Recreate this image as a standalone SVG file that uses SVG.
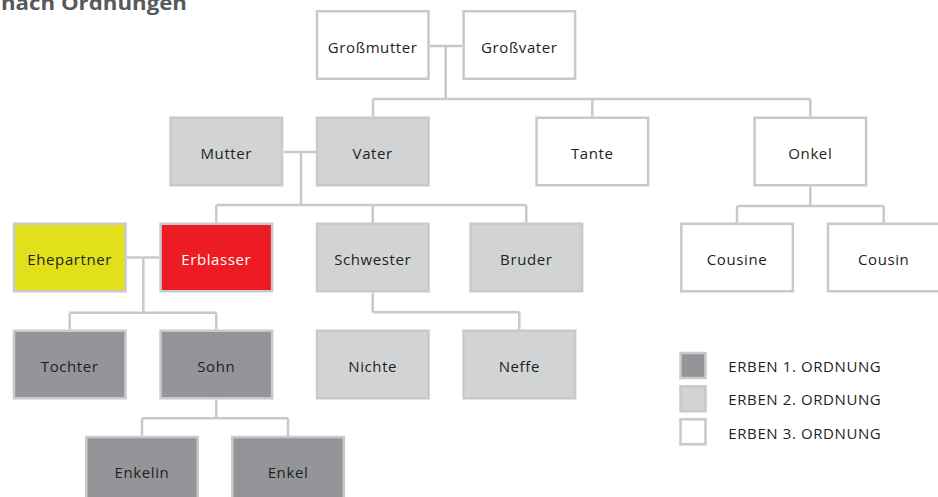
<svg xmlns="http://www.w3.org/2000/svg" width="938" height="497" viewBox="0 0 938 497">
<style>
.b{stroke:#c8c9cb;stroke-width:2.5}
.w{fill:#ffffff}
.l{fill:#d1d3d4}
.d{fill:#939598}
.y{fill:#e1e01a}
.r{fill:#ed1c24}
.t{font-family:"Open Sans","Noto Sans","Liberation Sans",sans-serif;font-size:15px;letter-spacing:0.6px;fill:#231f20;text-anchor:middle}
.tw{fill:#ffffff}
.lg{font-family:"Open Sans","Noto Sans","Liberation Sans",sans-serif;font-size:15px;letter-spacing:0.6px;fill:#231f20}
.c{fill:none;stroke:#c8c9cb;stroke-width:2.5}
.title{font-family:"Open Sans","Noto Sans","Liberation Sans",sans-serif;font-size:20px;font-weight:bold;fill:#58595b}
</style>
<text class="title" x="1" y="10" textLength="186" lengthAdjust="spacingAndGlyphs">nach Ordnungen</text>
<g id="connectors">
<path class="c" d="M430,46H462M445.7,46V99M373,99H810.3M373,99V116.5M592.3,99V116.5M810.3,99V116.5"/>
<path class="c" d="M284,152H316M301,152V205M216.3,205H526.3M216.3,205V222.5M372.7,205V222.5M526.3,205V222.5"/>
<path class="c" d="M810.3,186.5V206M737,206H883.7M737,206V222.5M883.7,206V222.5"/>
<path class="c" d="M126.7,257.5H159.3M143.3,257.5V312.7M69.7,312.7H216.3M69.7,312.7V329.5M216.3,312.7V329.5"/>
<path class="c" d="M372.7,292.5V312.3M372.7,312.3H519.3M519.3,312.3V329.5"/>
<path class="c" d="M216.3,399.5V418.3M142,418.3H288M142,418.3V435.7M288,418.3V435.7"/>
</g>
<g id="grossmutter"><rect class="b w" x="317" y="11.25" width="111.5" height="67.5"/><text class="t" x="372.7" y="52.5">Großmutter</text></g>
<g id="grossvater"><rect class="b w" x="463.6" y="11.25" width="111.5" height="67.5"/><text class="t" x="519.3" y="52.5">Großvater</text></g>
<g id="mutter"><rect class="b l" x="170.6" y="117.75" width="111.5" height="67.5"/><text class="t" x="226.3" y="158.5">Mutter</text></g>
<g id="vater"><rect class="b l" x="317" y="117.75" width="111.5" height="67.5"/><text class="t" x="372.7" y="158.5">Vater</text></g>
<g id="tante"><rect class="b w" x="536.6" y="117.75" width="111.5" height="67.5"/><text class="t" x="592.3" y="158.5">Tante</text></g>
<g id="onkel"><rect class="b w" x="754.6" y="117.75" width="111.5" height="67.5"/><text class="t" x="810.3" y="158.5">Onkel</text></g>
<g id="ehepartner"><rect class="b y" x="14" y="223.75" width="111.5" height="67.5"/><text class="t" x="69.7" y="264.5">Ehepartner</text></g>
<g id="erblasser"><rect class="b r" x="160.6" y="223.75" width="111.5" height="67.5"/><text class="t tw" x="216.3" y="264.5">Erblasser</text></g>
<g id="schwester"><rect class="b l" x="317" y="223.75" width="111.5" height="67.5"/><text class="t" x="372.7" y="264.5">Schwester</text></g>
<g id="bruder"><rect class="b l" x="470.6" y="223.75" width="111.5" height="67.5"/><text class="t" x="526.3" y="264.5">Bruder</text></g>
<g id="cousine"><rect class="b w" x="681.3" y="223.75" width="111.5" height="67.5"/><text class="t" x="737" y="264.5">Cousine</text></g>
<g id="cousin"><rect class="b w" x="828" y="223.75" width="111.5" height="67.5"/><text class="t" x="883.7" y="264.5">Cousin</text></g>
<g id="tochter"><rect class="b d" x="14" y="330.75" width="111.5" height="67.5"/><text class="t" x="69.7" y="371.5">Tochter</text></g>
<g id="sohn"><rect class="b d" x="160.6" y="330.75" width="111.5" height="67.5"/><text class="t" x="216.3" y="371.5">Sohn</text></g>
<g id="nichte"><rect class="b l" x="317" y="330.75" width="111.5" height="67.5"/><text class="t" x="372.7" y="371.5">Nichte</text></g>
<g id="neffe"><rect class="b l" x="463.6" y="330.75" width="111.5" height="67.5"/><text class="t" x="519.3" y="371.5">Neffe</text></g>
<g id="enkelin"><rect class="b d" x="86.3" y="437" width="111.5" height="67.5"/><text class="t" x="142" y="477.7">Enkelin</text></g>
<g id="enkel"><rect class="b d" x="232.3" y="437" width="111.5" height="67.5"/><text class="t" x="288" y="477.7">Enkel</text></g>
<g id="legend">
<rect class="b d" x="680.5" y="353" width="25" height="25"/>
<text class="lg" x="728.3" y="372">ERBEN 1. ORDNUNG</text>
<rect class="b l" x="680.5" y="386.3" width="25" height="25"/>
<text class="lg" x="728.3" y="405.3">ERBEN 2. ORDNUNG</text>
<rect class="b w" x="680.5" y="419.3" width="25" height="25"/>
<text class="lg" x="728.3" y="438.6">ERBEN 3. ORDNUNG</text>
</g>
</svg>
